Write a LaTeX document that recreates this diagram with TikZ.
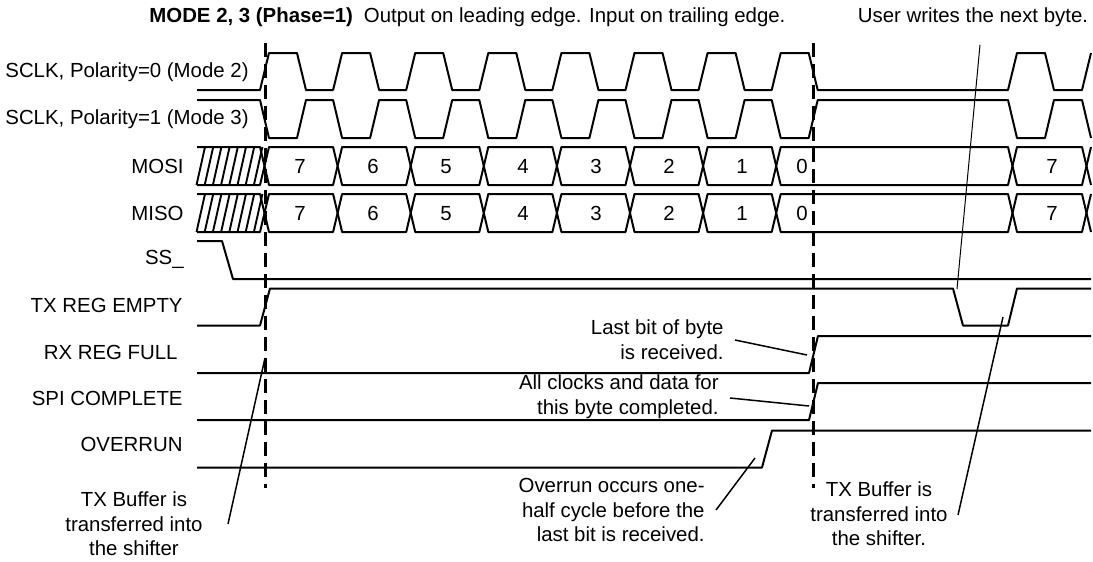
\documentclass[tikz,border=0pt]{standalone}
\usepackage{fontspec}
\setmainfont{Liberation Sans}

\begin{document}
\begin{tikzpicture}[x=0.5pt,y=-0.5pt,
  sig/.style={line width=1pt, line join=round},
  hatch/.style={line width=0.95pt},
  marker/.style={line width=1.5pt, dash pattern=on 7pt off 3.5pt},
  lead/.style={line width=0.75pt},
  thinlead/.style={line width=0.5pt},
  lbl/.style={anchor=east, inner sep=0pt, font=\fontsize{10.2}{12}\selectfont},
  bit/.style={inner sep=0pt, text height=7.3pt, text depth=0pt, font=\fontsize{10.2}{12}\selectfont},
  note/.style={inner sep=0pt, align=center, font=\fontsize{10.2}{12.3}\selectfont},
  rnote/.style={note, align=right, anchor=east}
]
  \useasboundingbox (0,0) rectangle (1093,562);

  \node[anchor=west, inner sep=0pt, font=\fontsize{10.2}{12}\selectfont] (title) at (149,17)
    {\textbf{MODE 2, 3 (Phase=1)}\hspace{5.5pt}Output on leading edge. Input on trailing edge.};
  \node[note] (user) at (973,17) {User writes the next byte.};

  \node[lbl] (lsclka) at (249,72) {SCLK, Polarity=0 (Mode 2)};
  \node[lbl] (lsclkb) at (249,119) {SCLK, Polarity=1 (Mode 3)};
  \node[lbl] (lmosi) at (184,166) {MOSI};
  \node[lbl] (lmiso) at (184,213) {MISO};
  \node[lbl] (lss) at (184,259) {SS\_};
  \node[lbl] (ltx) at (183,305) {TX REG EMPTY};
  \node[lbl] (lrx) at (178,352) {RX REG FULL};
  \node[lbl] (lspi) at (183,398) {SPI COMPLETE};
  \node[lbl] (lovr) at (183,444) {OVERRUN};

  \draw[sig] (197,90) foreach \k in {0,...,7} {-- (260+73.1*\k,90) -- (269+73.1*\k,53) -- (297+73.1*\k,53) -- (306+73.1*\k,90)}
    -- (1008,90) -- (1017,53) -- (1045,53) -- (1054,90) -- (1082,90) -- (1091,53);
  \draw[sig] (197,100) foreach \k in {0,...,7} {-- (260+73.1*\k,100) -- (269+73.1*\k,138) -- (297+73.1*\k,138) -- (306+73.1*\k,100)}
    -- (1008,100) -- (1017,138) -- (1045,138) -- (1054,100) -- (1082,100) -- (1091,138);

  \foreach \y/\n in {166/mosi,213/miso} {
    \draw[sig] (197,\y-19) -- (260,\y-19) -- (264.5,\y) -- (260,\y+19) -- (197,\y+19);
    \foreach \k in {0,...,7} \draw[hatch] (196.5+8.2*\k,\y+19) -- (205+8.2*\k,\y-19);
    \foreach \a/\b in {260/333.1,333.1/406.2,406.2/479.3,479.3/552.4,552.4/625.5,625.5/698.6,698.6/771.7,771.7/1008,1008/1082}
      \draw[sig] (\a+4.5,\y) -- (\a+9,\y-19) -- (\b,\y-19) -- (\b+4.5,\y) -- (\b,\y+19) -- (\a+9,\y+19) -- cycle;
    \draw[sig] (1091,\y-19) -- (1086.5,\y) -- (1091,\y+19);
    \foreach \v/\x [count=\i] in {7/300,6/373,5/446,4/523,3/596,2/669,1/742,0/802,7/1052}
      \node[bit] (\n\i) at (\x,\y) {\v};
  }

  \draw[sig] (197,241) -- (222,241) -- (233,279) -- (1091,279);
  \draw[sig] (197,325.5) -- (260,325.5) -- (270,288.5) -- (953,288.5) -- (963,325.5) -- (1008,325.5) -- (1017,288.5) -- (1091,288.5);
  \draw[sig] (197,373) -- (809,373) -- (818,336) -- (1091,336);
  \draw[sig] (197,420) -- (809,420) -- (818,383) -- (1091,383);
  \draw[sig] (197,467.5) -- (762,467.5) -- (772,430.5) -- (1091,430.5);

  \draw[marker] (265,43) -- (265,488);
  \draw[marker] (813,43) -- (813,488);

  \node[note] (bufa) at (134,524) {TX Buffer is\\transferred into\\the shifter};
  \node[rnote] (lastbit) at (724,340) {Last bit of byte\\is received.};
  \node[rnote] (allclk) at (719,397) {All clocks and data for\\this byte completed.};
  \node[rnote] (ovrnote) at (705,510) {Overrun occurs one-\\half cycle before the\\last bit is received.};
  \node[note] (bufb) at (879,514) {TX Buffer is\\transferred into\\the shifter.};

  \coordinate (bufaend) at (265,358);
  \coordinate (lastend) at (807,355);
  \coordinate (allend) at (809,406);
  \coordinate (ovrend) at (755,458);
  \coordinate (bufbend) at (1003,317);
  \coordinate (userend) at (957,289);

  \draw[lead] ([xshift=12.5pt]bufa.east) -- (bufaend);
  \draw[lead] ([xshift=5.5pt]lastbit.east) -- (lastend);
  \draw[lead] ([xshift=5.5pt,yshift=-0.5pt]allclk.east) -- (allend);
  \draw[lead] ([xshift=5.5pt]ovrnote.east) -- (ovrend);
  \draw[lead] ([xshift=5pt,yshift=-0.5pt]bufb.east) -- (bufbend);
  \draw[thinlead] ([xshift=3.5pt,yshift=-9pt]user.south) -- (userend);
\end{tikzpicture}
\end{document}
